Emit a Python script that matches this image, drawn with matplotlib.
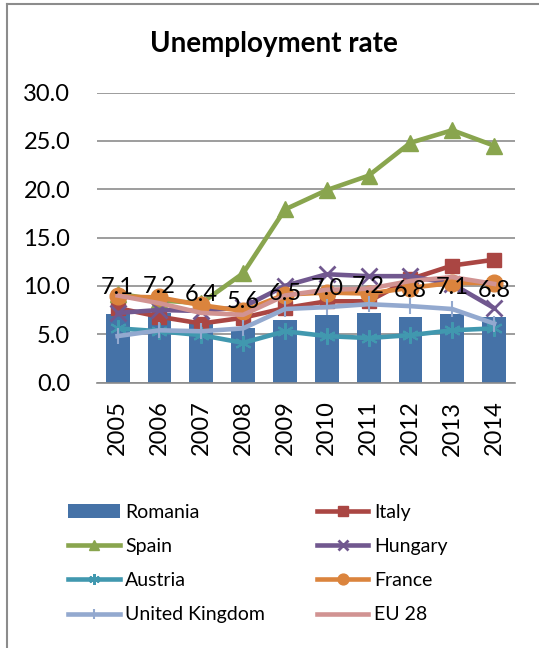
import matplotlib
matplotlib.use("Agg")
import matplotlib.pyplot as plt
from matplotlib.lines import Line2D

plt.rcParams.update({"font.family": ["Lato", "DejaVu Sans"]})

years = ["2005", "2006", "2007", "2008", "2009", "2010", "2011", "2012", "2013", "2014"]
romania = [7.1, 7.2, 6.4, 5.6, 6.5, 7.0, 7.2, 6.8, 7.1, 6.8]
italy = [7.7, 6.8, 6.1, 6.7, 7.7, 8.4, 8.4, 10.7, 12.1, 12.7]
spain = [9.2, 8.5, 8.2, 11.3, 17.9, 19.9, 21.4, 24.8, 26.1, 24.5]
hungary = [7.2, 7.5, 7.4, 7.8, 10.0, 11.2, 11.0, 11.0, 10.2, 7.7]
austria = [5.6, 5.3, 4.9, 4.1, 5.3, 4.8, 4.6, 4.9, 5.4, 5.6]
france = [8.9, 8.8, 8.0, 7.4, 9.1, 9.3, 9.2, 9.8, 10.3, 10.3]
uk = [4.8, 5.4, 5.3, 5.6, 7.6, 7.8, 8.1, 7.9, 7.6, 6.1]
eu28 = [9.0, 8.2, 7.2, 7.0, 9.0, 9.6, 9.7, 10.5, 10.9, 10.2]

GRID = "#8c8c8c"
FS = 17
x = list(range(len(years)))

fig = plt.figure(figsize=(5.39, 6.48), dpi=100)

# outer frame (only left and top edges visible in the crop)
fig.add_artist(Line2D([6.5 / 539, 6.5 / 539], [0, 1 - 3.5 / 648], color=GRID, lw=1.5))
fig.add_artist(Line2D([6.5 / 539, 1], [1 - 3.5 / 648, 1 - 3.5 / 648], color=GRID, lw=1.5))

fig.text(274 / 539, 1 - 44 / 648, "Unemployment rate", ha="center", va="center",
         fontsize=20, fontweight="bold")

ax = fig.add_axes([96.7 / 539, 1 - 382.5 / 648, (515 - 96.7) / 539, 290 / 648])
ax.set_xlim(-0.5, 9.5)
ax.set_ylim(0, 30)
ax.set_yticks([0, 5, 10, 15, 20, 25, 30])
ax.set_yticklabels([f"{v:.1f}" for v in [0, 5, 10, 15, 20, 25, 30]])
ax.set_xticks(x)
ax.set_xticklabels(years, rotation=90)
ax.tick_params(axis="both", length=0, labelsize=FS)
ax.yaxis.set_tick_params(pad=19)
ax.xaxis.set_tick_params(pad=13)
for s in ("left", "right", "top"):
    ax.spines[s].set_visible(False)
ax.spines["bottom"].set_color(GRID)
ax.spines["bottom"].set_linewidth(1.2)
ax.yaxis.grid(True, color=GRID, lw=1.2)
ax.set_axisbelow(True)

lw = 3.3
ax.bar(x, romania, width=0.57, color="#4572A7", zorder=2, label="Romania")
ax.plot(x, italy, color="#AA4643", lw=lw, marker="s", ms=10, zorder=3, label="Italy")
ax.plot(x, spain, color="#89A54E", lw=lw, marker="^", ms=12, zorder=3, label="Spain")
ax.plot(x, hungary, color="#71588F", lw=lw, marker="x", ms=11, mew=2, zorder=3, label="Hungary")
ax.plot(x, austria, color="#4198AF", lw=lw, marker=(6, 2, 0), ms=12, mew=1.5, zorder=3, label="Austria")
ax.plot(x, france, color="#DB843D", lw=lw, marker="o", ms=12, zorder=3, label="France")
ax.plot(x, uk, color="#93A9CF", lw=lw, marker="|", ms=12, mew=1.5, zorder=3, label="United Kingdom")
ax.plot(x, eu28, color="#D19392", lw=lw, zorder=3, label="EU 28")

for i, v in enumerate(romania):
    ax.annotate(f"{v:.1f}", (i, v), xytext=(0, 19), textcoords="offset points",
                ha="center", va="center", fontsize=FS, zorder=10)

h, l = ax.get_legend_handles_labels()
order = ["Romania", "Spain", "Austria", "United Kingdom", "Italy", "Hungary", "France", "EU 28"]
hd = dict(zip(l, h))
fig.legend([hd[k] for k in order], order, ncol=2, frameon=False, fontsize=14,
           loc="upper left", bbox_to_anchor=(68 / 539, 1 - 504 / 648), borderpad=0,
           borderaxespad=0, markerscale=0.65,
           handlelength=2.65, handletextpad=0.3, columnspacing=2.65, labelspacing=0.88)

fig.savefig("out.png", dpi=100)
